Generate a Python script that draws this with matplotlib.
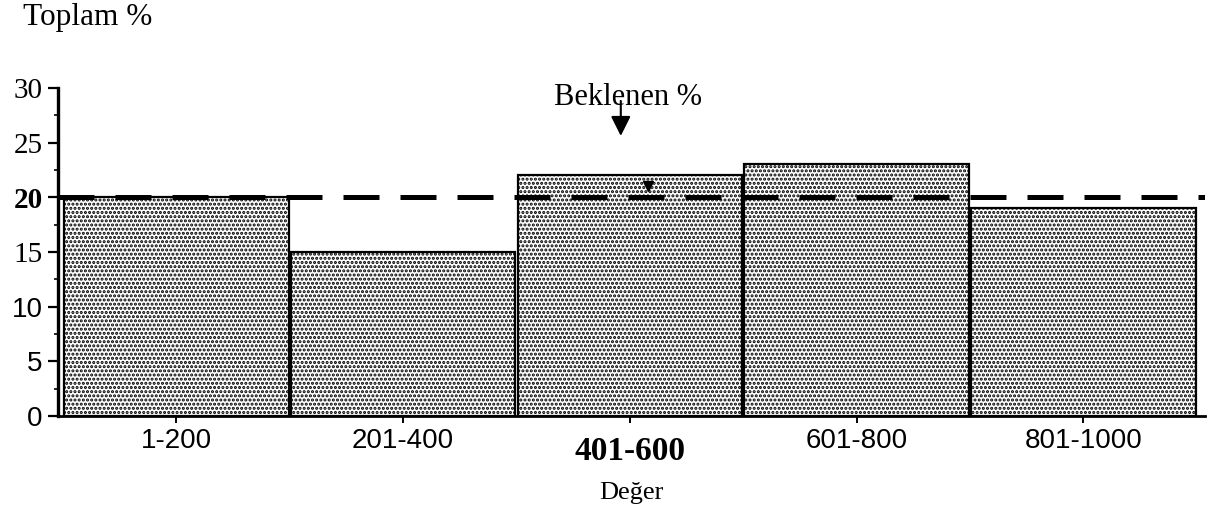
import numpy as np
import matplotlib.pyplot as plt
import matplotlib.transforms as mtransforms

categories = ["1-200", "201-400", "401-600", "601-800", "801-1000"]
values = [20, 15, 22, 23, 19]
expected = 20
y_ticks = [0, 5, 10, 15, 20, 25, 30]

plt.rcParams['hatch.linewidth'] = 1.5
plt.rcParams['hatch.color'] = 'black'

fig = plt.figure(figsize=(12.12, 5.12), dpi=100)
ax = fig.add_axes([0.0479, 0.1875, 0.946, 0.641])

x = np.arange(len(categories))
ax.bar(x, values, width=0.99, color='white', edgecolor='black',
       linewidth=1.6, hatch='....', zorder=2)
ax.axhline(expected, color='black', lw=3.6, dashes=(7.2, 4.2), zorder=3)

ax.set_xlim(-0.522, 4.535)
ax.set_ylim(0, 30)

for s in ['top', 'right']:
    ax.spines[s].set_visible(False)
ax.spines['left'].set_linewidth(2.4)
ax.spines['bottom'].set_linewidth(2.0)

ax.set_yticks(y_ticks)
ax.set_yticks(np.arange(2.5, 30, 5), minor=True)
ax.tick_params(axis='y', which='major', length=7, width=1.6, pad=4)
ax.tick_params(axis='y', which='minor', length=3, width=1.2)
ax.set_xticks(x)
ax.set_xticklabels(categories)
ax.tick_params(axis='x', which='major', length=5, width=1.4, pad=4)

serif = 'Liberation Serif'
sans = 'Liberation Sans'
for lab in ax.get_yticklabels():
    v = lab.get_text()
    if v in ('0', '5', '10'):
        lab.set_fontfamily(sans)
        lab.set_fontsize(20)
    else:
        lab.set_fontfamily(serif)
        lab.set_fontsize(21)
        if v == '20':
            lab.set_fontweight('bold')
for lab in ax.get_xticklabels():
    if lab.get_text() == '401-600':
        lab.set_fontfamily(serif)
        lab.set_fontweight('bold')
        lab.set_fontsize(24)
        lab.set_transform(lab.get_transform() +
                          mtransforms.ScaledTranslation(0, -0.07, fig.dpi_scale_trans))
    else:
        lab.set_fontfamily(sans)
        lab.set_fontsize(20)

fig.text(0.019, 0.965, "Toplam %", family=serif, fontsize=22.5, va='center', ha='left')
ax.set_xlabel("Değer", family=serif, fontsize=19, labelpad=11)

ax.text(1.99, 29.1, "Beklenen %", family=serif, fontsize=22, ha='center', va='center')
ax.annotate("", xy=(1.96, 25.6), xytext=(1.96, 28.8),
            arrowprops=dict(arrowstyle='-|>', color='black', lw=1.5,
                            mutation_scale=30, shrinkA=0, shrinkB=0))
ax.plot([2.08], [21.0], marker='v', color='black', markersize=7, zorder=4)

fig.savefig("out.png", dpi=100)
